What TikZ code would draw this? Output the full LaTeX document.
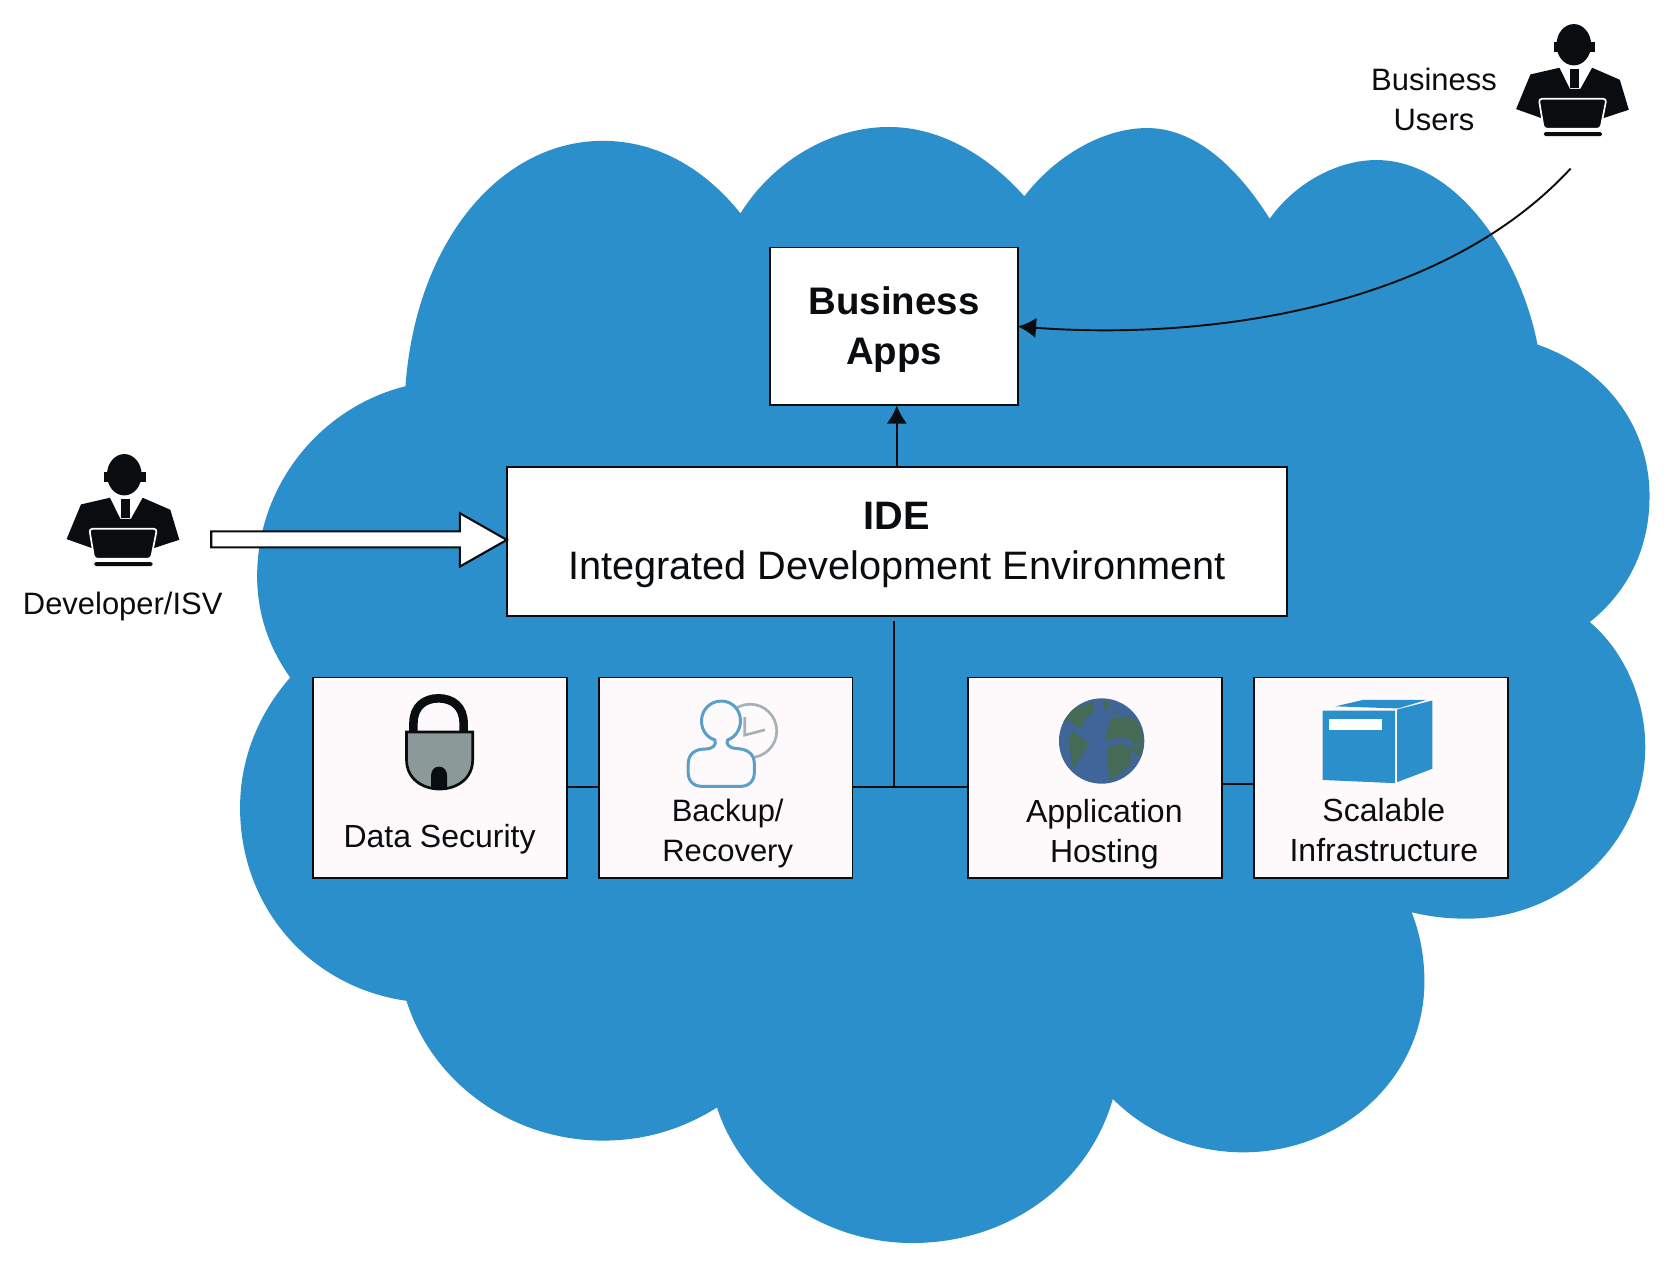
\documentclass[tikz,border=0pt]{standalone}
\usepackage{fontspec}
\setmainfont{Liberation Sans}
\usetikzlibrary{arrows.meta,calc}
\definecolor{cloudblue}{HTML}{2B8FCB}
\definecolor{ink}{HTML}{0A0D10}
\definecolor{paper}{HTML}{FEFAFB}
\definecolor{locksteel}{HTML}{8B9A98}
\definecolor{clockgray}{HTML}{A6B0B6}
\definecolor{userblue}{HTML}{5A9FCA}
\definecolor{sea}{HTML}{3F6599}
\definecolor{land}{HTML}{456A56}
\tikzset{
  bigbox/.style={draw=ink,line width=1.8pt,fill=white,inner sep=0pt,outer sep=0pt},
  biglabel/.style={inner sep=0pt,align=center,text=ink,font=\fontsize{37.2}{47}\selectfont},
  boldlabel/.style={inner sep=0pt,align=center,text=ink,font=\fontsize{36}{47}\selectfont\bfseries},
  smallbox/.style={draw=ink,line width=1.8pt,fill=paper,inner sep=0pt,outer sep=0pt,minimum width=238pt,minimum height=188pt},
  label/.style={inner sep=0pt,align=center,text=ink,font=\fontsize{30}{37.5}\selectfont},
  narrowlabel/.style={label,font=\fontsize{29}{37.5}\selectfont},
  link/.style={draw=ink,line width=1.8pt},
  tiplink/.style={link,-{Latex[length=17pt,width=19pt]}},
  blockarrow/.style={draw=ink,line width=2pt,fill=white,line join=miter}
}
\newcommand{\personicon}[2]{%
  \begin{scope}[shift={(#1,#2)},scale=0.3125]
    \fill[ink] (-173,196) -- (-130,92) -- (-43,72) -- (-12,135) -- (20,135) -- (55,72) -- (138,108) -- (165,198) -- (92,222) -- (-100,222) -- cycle;
    \fill[ink] (-10,75) rectangle (17,132);
    \fill[ink] (0,3) ellipse [x radius=52,y radius=62];
    \fill[ink] (-60,-5) rectangle (65,25);
    \draw[white,line width=1.6pt,fill=ink,rounded corners=3pt] (-105,165) -- (98,165) -- (80,255) -- (-90,255) -- cycle;
    \fill[ink,rounded corners=1.5pt] (-90,265) rectangle (85,277);
  \end{scope}}
\begin{document}
\begin{tikzpicture}[x=1pt,y=-1pt]
\useasboundingbox[fill=white] (0,0) rectangle (1568,1188.4);
% cloud
\fill[cloudblue] (380,362) .. controls (390,225) and (470,132) .. (565,132)
  .. controls (618,132) and (662,160) .. (694,200)
  .. controls (725,150) and (780,119) .. (833,119)
  .. controls (885,119) and (930,150) .. (960,184)
  .. controls (990,145) and (1035,120) .. (1075,120)
  .. controls (1125,120) and (1165,165) .. (1190,205)
  .. controls (1215,170) and (1255,150) .. (1290,150)
  .. controls (1365,150) and (1425,240) .. (1441,323)
  .. controls (1505,345) and (1546,400) .. (1546,465)
  .. controls (1546,515) and (1525,555) .. (1490,583)
  .. controls (1522,610) and (1542,655) .. (1542,700)
  .. controls (1542,790) and (1465,861) .. (1375,861)
  .. controls (1355,861) and (1340,859) .. (1323,855)
  .. controls (1331,875) and (1335,897) .. (1335,920)
  .. controls (1335,1010) and (1258,1080) .. (1165,1080)
  .. controls (1118,1080) and (1075,1062) .. (1043,1030)
  .. controls (1020,1110) and (945,1165) .. (855,1165)
  .. controls (770,1165) and (695,1110) .. (672,1038)
  .. controls (640,1058) and (605,1069) .. (565,1069)
  .. controls (480,1069) and (405,1015) .. (381,938)
  .. controls (290,925) and (225,850) .. (225,757)
  .. controls (225,710) and (243,668) .. (272,635)
  .. controls (252,607) and (241,575) .. (241,540)
  .. controls (241,455) and (300,382) .. (380,362) -- cycle;
% boxes
\node[bigbox,minimum width=232pt,minimum height=148pt] (apps) at (838,306) {};
\node[boldlabel] (appslabel) at (838,308.5) {Business\\Apps};
\node[bigbox,minimum width=731pt,minimum height=139pt] (ide) at (840.5,507.5) {};
\node[biglabel] (idelabel) at (840.5,511) {\textbf{IDE}\\Integrated Development Environment};
\node[smallbox] (sec) at (412,729) {};
\node[smallbox] (bak) at (680,729) {};
\node[smallbox] (hst) at (1026.5,729) {};
\node[smallbox] (inf) at (1294.5,729) {};
% connectors
\coordinate (junction) at (838,738);
\coordinate (hstlink) at (1145,735);
\coordinate (usersend) at (1472,158);
\draw[tiplink] (ide.north) -- (ide.north |- apps.south);
\draw[link] ([yshift=-5pt]apps.south |- ide.south) -- (junction);
\draw[link] (sec.east |- junction) -- (bak.west |- junction);
\draw[link] (bak.east |- junction) -- (hst.west |- junction);
\draw[link] (hst.east |- hstlink) -- (inf.west |- hstlink);
\draw[tiplink] (usersend) .. controls (1350,290) and (1130,319) .. (apps.east);
\coordinate (arrowtip) at ($(ide.west)+(0,-1.5)$);
\draw[blockarrow] (198,498) -- (431,498) -- (431,481) -- (arrowtip) -- (431,531) -- (431,513) -- (198,513) -- cycle;
% people
\personicon{1475}{41}
\personicon{116.5}{444}
\node[narrowlabel] (devlabel) at (115,568) {Developer/ISV};
\node[narrowlabel] (userlabel) at (1344,93) {Business\\Users};
% box labels
\node[label] (seclabel) at (412,787) {Data Security};
\node[narrowlabel] (baklabel) at (682,781.5) {Backup/\\Recovery};
\node[label] (hstlabel) at (1035,781.5) {Application\\Hosting};
\node[label] (inflabel) at (1297,778) {Scalable\\Infrastructure};
% lock
\draw[ink,line width=8pt] (387.5,688) -- (387.5,678) .. controls (387.5,662) and (398,654.5) .. (411,654.5) .. controls (424,654.5) and (434.5,662) .. (434.5,678) -- (434.5,688);
\draw[ink,line width=2.5pt,fill=locksteel] (381,686) -- (443,686) -- (443,712) .. controls (443,730) and (428,739.5) .. (412,739.5) .. controls (396,739.5) and (381,730) .. (381,712) -- cycle;
\fill[ink] (404,739) -- (404,727) .. controls (404,722) and (407,718.5) .. (411.5,718.5) .. controls (416,718.5) and (419,722) .. (419,727) -- (419,739) -- cycle;
% backup
\draw[clockgray,line width=2.5pt] (703,685) circle [radius=25];
\draw[clockgray,line width=2.5pt] (698,672) -- (698,689) -- (717,684);
\draw[userblue,line width=2.8pt,fill=paper] (670,693.5)
  .. controls (662,691) and (657.5,684) .. (657.5,675.5)
  .. controls (657.5,665) and (666,657) .. (676,657)
  .. controls (686,657) and (694,665) .. (694,675.5)
  .. controls (694,684) and (689,691) .. (682,693.5)
  .. controls (680,697) and (683,701) .. (690,701.5)
  .. controls (700,702) and (707,706) .. (707,716)
  -- (707,724) .. controls (707,732) and (702,737) .. (694,737)
  -- (658,737) .. controls (650,737) and (645,732) .. (645,724)
  -- (645,716) .. controls (645,707) and (651,702) .. (661,702)
  .. controls (668,702) and (672,698) .. (670,693.5) -- cycle;
% globe
\begin{scope}
  \fill[sea] (1032.5,694.5) circle [radius=40];
  \clip (1032.5,694.5) circle [radius=40];
  \fill[land] (996,677) -- (1006,664) -- (1024,658) -- (1026,666) -- (1016,675) -- (1013,683) -- (1006,679) -- (1001,675) -- cycle;
  \fill[land] (1005,685) -- (1013,691) -- (1021,696) -- (1015,706) -- (1006,722) -- (1003,703) -- (1001,694) -- cycle;
  \fill[land] (1033,657) -- (1038,656) -- (1040,664) -- (1035,665) -- cycle;
  \fill[land] (1043,666) -- (1048,666.5) -- (1046,670) -- (1044,670) -- cycle;
  \fill[land] (1035,694) -- (1041,674) -- (1056,671) -- (1068,678) -- (1073,697) -- (1063,697) -- (1056,692) -- (1046,692) -- (1040,694) -- cycle;
  \fill[land] (1038,700) -- (1053,697) -- (1060,702) -- (1060,716) -- (1046,728) -- (1040,731) -- (1038,716) -- cycle;
  \fill[land] (1060,699) -- (1072,699) -- (1068,708) -- (1062,705) -- cycle;
\end{scope}
% box icon
\fill[cloudblue] (1239.5,666) -- (1307.5,666) -- (1307.5,734) -- (1239.5,731) -- cycle;
\fill[cloudblue] (1309.5,665) -- (1342.5,656.5) -- (1342.5,720.5) -- (1309.5,733) -- cycle;
\fill[cloudblue] (1251.5,662) -- (1277.5,656) -- (1336.5,656) -- (1310.5,664) -- cycle;
\fill[white] (1245.5,674) rectangle (1295.5,684);
\end{tikzpicture}
\end{document}
